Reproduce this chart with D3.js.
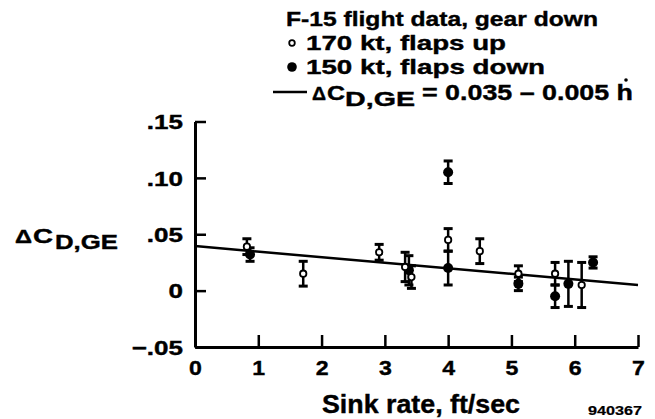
<!DOCTYPE html>
<html><head><meta charset="utf-8">
<script src="https://cdn.jsdelivr.net/npm/d3@7"></script>
<style>
body{margin:0;background:#fff;}
text{font-family:"Liberation Sans",Arial,Helvetica,sans-serif;font-weight:bold;fill:#000;stroke:#000;stroke-width:0.4px;}
</style></head>
<body><svg id="c" width="655" height="419"></svg>
<script>
// Data
const xTicks = [0,1,2,3,4,5,6,7];
const yTicks = [-0.05,0,0.05,0.10,0.15];
const yTickLabels = ["\u2212.05","0",".05",".10",".15"];
// 170 kt, flaps up (open)
const openX   = [0.82, 1.71, 2.91, 3.32, 3.42, 4.00, 4.50, 5.11, 5.69, 6.11];
const openY   = [0.039,0.015,0.034,0.021,0.012,0.045,0.035,0.015,0.015,0.005];
const openErr = [0.007,0.011,0.007,0.013,0.010,0.010,0.011,0.007,0.010,0.020];
// 150 kt, flaps down (filled)
const filledX   = [0.87, 3.38, 4.00, 4.00, 5.11, 5.69, 5.90, 6.29];
const filledY   = [0.032,0.018,0.105,0.020,0.006,-0.005,0.006,0.025];
const filledErr = [0.006,0.013,0.010,0.015,0.006,0.010,0.020,0.005];
// fitted line
const fitX = [0, 7];
const fitY = [0.0395, 0.005];

const svg = d3.select("#c");
const x = d3.scaleLinear().domain([0,7]).range([195,638]);
const y = d3.scaleLinear().domain([-0.05,0.15]).range([347,121.5]);

function label(px, py, size, s, w){
  const t = svg.append("text").attr("x",px).attr("y",py).style("font-size",size+"px").text(s);
  if (w) t.attr("textLength",w).attr("lengthAdjust","spacingAndGlyphs");
  return t;
}

// axes (ticks pointing inward)
const gx = svg.append("g").attr("transform","translate(0,"+y(-0.05)+")")
  .call(d3.axisBottom(x).tickValues(xTicks).tickSizeInner(-12).tickSizeOuter(0).tickFormat(d3.format("d")));
const gy = svg.append("g").attr("transform","translate("+x(0)+",0)")
  .call(d3.axisLeft(y).tickValues(yTicks).tickSizeInner(-11).tickSizeOuter(0).tickPadding(12)
    .tickFormat((d,i)=>yTickLabels[i]));
[gx,gy].forEach(g=>{
  g.select(".domain").attr("stroke","#000").attr("stroke-width",3);
  g.selectAll(".tick line").attr("stroke","#000").attr("stroke-width",2.5);
  g.selectAll(".tick text").style("font-size","20px").style("font-weight","bold")
   .style("font-family","'Liberation Sans',Arial,sans-serif").attr("fill","#000");
});
gx.selectAll(".tick text").attr("dy",null).attr("y",28).style("font-size","21px")
  .each(function(){ const w=this.getComputedTextLength(); d3.select(this).attr("textLength",w*1.1).attr("lengthAdjust","spacingAndGlyphs"); });
gx.selectAll(".tick").filter(d=>d===0).select("line").remove();
gy.selectAll(".tick text").attr("dy","0.36em")
  .each(function(){ const w=this.getComputedTextLength(); d3.select(this).attr("textLength",w*1.3).attr("lengthAdjust","spacingAndGlyphs"); });

// fit line
svg.append("path").datum(fitX.map((d,i)=>[d,fitY[i]]))
  .attr("d",d3.line().x(d=>x(d[0])).y(d=>y(d[1])))
  .attr("stroke","#000").attr("stroke-width",2.5).attr("fill","none");

function errorBars(X,Y,E){
  const g = svg.append("g").attr("stroke","#000").attr("stroke-width",2.5);
  X.forEach((xv,i)=>{
    const cx=x(xv), y1=y(Y[i]+E[i]), y2=y(Y[i]-E[i]);
    g.append("line").attr("x1",cx).attr("x2",cx).attr("y1",y1).attr("y2",y2);
    g.append("line").attr("x1",cx-4.5).attr("x2",cx+4.5).attr("y1",y1).attr("y2",y1).attr("stroke-width",3);
    g.append("line").attr("x1",cx-4.5).attr("x2",cx+4.5).attr("y1",y2).attr("y2",y2).attr("stroke-width",3);
  });
}
errorBars(openX,openY,openErr);
errorBars(filledX,filledY,filledErr);

svg.append("g").selectAll("circle").data(filledX).join("circle")
  .attr("cx",d=>x(d)).attr("cy",(d,i)=>y(filledY[i])).attr("r",5).attr("fill","#000");
svg.append("g").selectAll("circle").data(openX).join("circle")
  .attr("cx",d=>x(d)).attr("cy",(d,i)=>y(openY[i])).attr("r",3.2)
  .attr("fill","#fff").attr("stroke","#000").attr("stroke-width",1.8);

// y label
label(15, 243, 18, "\u0394", 17);
label(33, 243, 21, "C", 20);
label(55, 249, 20, "D,GE", 63);

// x label
label(322, 413, 25, "Sink rate, ft/sec", 198);
label(588, 415, 13, "940367", 54).style("stroke-width","0.2px");

// legend
label(286, 26, 21, "F-15 flight data, gear down", 312);
svg.append("circle").attr("cx",292).attr("cy",43).attr("r",2.8).attr("fill","#fff").attr("stroke","#000").attr("stroke-width",1.8);
label(306, 50, 21, "170 kt, flaps up", 200);
svg.append("circle").attr("cx",292).attr("cy",67).attr("r",4.8).attr("fill","#000");
label(306, 74, 21, "150 kt, flaps down", 239);
svg.append("line").attr("x1",273).attr("x2",307).attr("y1",92).attr("y2",92).attr("stroke","#000").attr("stroke-width",2.5);
label(312, 100, 18, "\u0394", 14);
label(327, 100, 21, "C", 18);
label(345, 106, 21, "D,GE", 70);
label(422, 100, 22, "= 0.035 \u2013 0.005 h", 211);
svg.append("circle").attr("cx",626).attr("cy",80).attr("r",1.8).attr("fill","#000");
</script></body></html>
